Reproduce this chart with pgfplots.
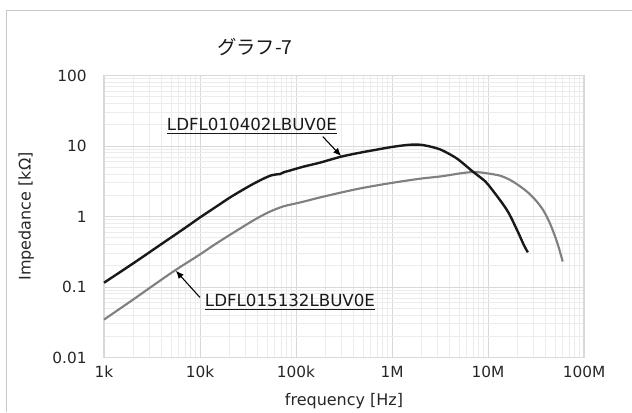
\documentclass[border=0pt]{standalone}
\usepackage{pgfplots}
\pgfplotsset{compat=1.18}
\usetikzlibrary{arrows.meta}
\usepackage{fontspec}
\setmainfont{DejaVu Sans}
\newfontfamily\cjk{Noto Sans CJK JP}
\definecolor{gridmaj}{RGB}{217,217,217}
\definecolor{gridmin}{RGB}{236,236,236}
\definecolor{curvegray}{RGB}{128,128,128}
\definecolor{curveblack}{RGB}{25,25,25}
\definecolor{framegray}{RGB}{200,200,200}
\pgfplotstableread{
f z
1000 0.115
2000 0.215
4000 0.41
7000 0.69
10000 0.97
15000 1.4
20000 1.82
26000 2.26
35000 2.85
45000 3.4
54000 3.8
62000 3.95
68000 4.0
75000 4.25
87000 4.5
120000 5.1
177000 5.8
300000 7.1
500000 8.2
700000 8.9
1000000 9.7
1500000 10.4
2000000 10.4
2600000 9.7
3200000 8.9
4100000 7.5
5000000 6.3
7000000 4.3
8300000 3.6
10000000 2.85
15600000 1.26
20000000 0.65
23500000 0.40
26000000 0.31
}\blackdata
\pgfplotstableread{
f z
1000 0.0345
2000 0.066
5000 0.158
10000 0.29
15000 0.42
25000 0.65
38000 0.92
54000 1.18
75000 1.4
110000 1.58
177000 1.86
300000 2.2
500000 2.55
1000000 3.0
2000000 3.45
3200000 3.7
5200000 4.1
7000000 4.28
8300000 4.22
10000000 4.08
13300000 3.8
17000000 3.3
21500000 2.69
26000000 2.2
32000000 1.65
38000000 1.2
44000000 0.81
50000000 0.52
54000000 0.38
60000000 0.23
}\graydata
\begin{document}
\begin{tikzpicture}[x=0.75pt,y=0.75pt]
\path[use as bounding box] (0,0) rectangle (632,412);
\draw[framegray,line width=0.75pt] (6,0) -- (6,402) -- (632,402);
\begin{axis}[
  at={(104pt*0.75,336.5pt*0.75)}, anchor=north west,
  scale only axis, width=360pt, height=211.5pt,
  xmode=log, ymode=log,
  xmin=1000, xmax=1e8, ymin=0.01, ymax=100,
  xtick={1e3,1e4,1e5,1e6,1e7,1e8},
  xticklabels={1k,10k,100k,1M,10M,100M},
  ytick={0.01,0.1,1,10,100},
  yticklabels={0.01,0.1,1,10,100},
  major tick length=0pt, minor tick length=0pt,
  grid=both,
  major grid style={gridmaj, line width=0.6pt},
  minor grid style={gridmin, line width=0.6pt},
  axis line style={gridmaj, line width=0.8pt},
  tick label style={font=\fontsize{11.5}{13}\selectfont, text=black!85},
  xticklabel style={yshift=-3pt},
  yticklabel style={xshift=-9.5pt},
  xlabel={frequency [Hz]},
  ylabel={Impedance [kΩ]},
  label style={font=\fontsize{12}{14}\selectfont, text=black!85},
  xlabel style={yshift=-4.5pt},
  ylabel style={yshift=7pt},
  clip=false,
]
\addplot[curvegray, line width=1.6pt, smooth, tension=0.5] table[x=f,y=z] {\graydata};
\addplot[curveblack, line width=1.8pt, smooth, tension=0.5] table[x=f,y=z] {\blackdata};
\draw[-{Latex[length=6pt,width=5pt]}, line width=0.8pt, black] (axis cs:1.9e5,13.6) -- (axis cs:2.95e5,7.2);
\draw[-{Latex[length=6pt,width=5pt]}, line width=0.8pt, black] (axis cs:1.0e4,0.071) -- (axis cs:5.6e3,0.17);
\end{axis}
\node[font=\cjk\fontsize{14.5}{16}\selectfont, text=black!90] at (255,365) {グラフ-7};
\node[font=\fontsize{12.5}{14}\selectfont, text=black!90] at (252,286) {\underline{LDFL010402LBUV0E}};
\node[font=\fontsize{12.5}{14}\selectfont, text=black!90] at (290,110) {\underline{LDFL015132LBUV0E}};
\end{tikzpicture}
\end{document}
